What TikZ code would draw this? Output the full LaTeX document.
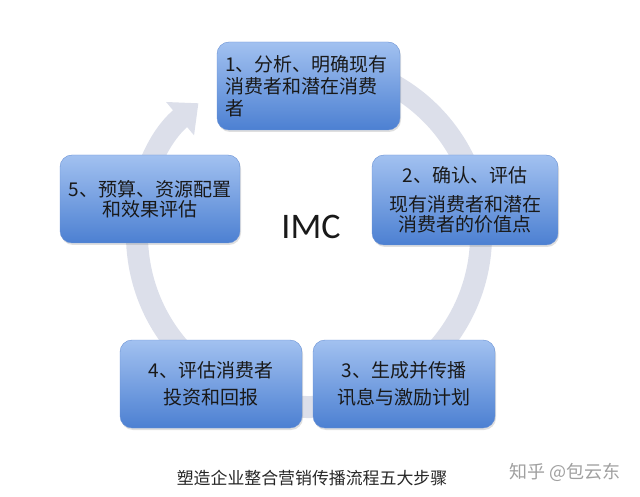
\documentclass[tikz,border=0pt]{standalone}
\usepackage{fontspec}
\setmainfont{Noto Sans CJK SC}
\newfontfamily\imcfont{Carlito}
\usepackage{tikz}
\usetikzlibrary{arrows.meta,positioning,calc,shadows}

\definecolor{ringgray}{RGB}{220,223,234}
\definecolor{boxtop}{RGB}{162,193,240}
\definecolor{boxbot}{RGB}{76,128,210}
\definecolor{boxline}{RGB}{105,145,212}
\definecolor{marktext}{RGB}{160,160,160}

\begin{document}
\begin{tikzpicture}[x=1pt,y=1pt,>=Latex]
  \tikzstyle{box}=[draw=boxline,rounded corners=12pt,top color=boxtop,bottom color=boxbot,
    minimum width=182pt,minimum height=88pt,align=center,inner sep=8pt,
    font=\fontsize{19}{20}\selectfont,text=black!90,
    drop shadow={shadow xshift=1pt,shadow yshift=-2pt,opacity=0.25}]
  \useasboundingbox (0,0) rectangle (640,496);
  \coordinate (c) at (309,261);
  % ring arrow behind the steps
  \draw[ringgray,line width=22pt,-{Triangle[width=42pt,length=24pt]}]
    (c) ++(100:172) arc[start angle=100,end angle=-230,radius=172];
  \node[box,minimum width=183pt,align=left,text width=167pt] (s1) at (308.5,410)
    {1、分析、明确现有\\[2pt]消费者和潜在消费\\[2pt]者};
  \node[box,minimum width=186pt,minimum height=90pt] (s2) at (465,296)
    {2、确认、评估\\[9pt]现有消费者和潜在\\消费者的价值点};
  \node[box] (s3) at (404,112) {3、生成并传播\\[7pt]讯息与激励计划};
  \node[box] (s4) at (211,112) {4、评估消费者\\[7pt]投资和回报};
  \node[box,minimum width=180pt] (s5) at (150,297) {5、预算、资源配置\\和效果评估};
  \node[font=\imcfont\fontsize{36}{36}\selectfont,text=black!90] (imc) at (311,269.5) {IMC};
  % caption and mark
  \node[font=\fontsize{16.9}{17}\selectfont,text=black!85] (cap) at (312,18) {塑造企业整合营销传播流程五大步骤};
  \node[font=\fontsize{18}{18}\selectfont,text=marktext] (mark) at (565,24) {知乎 @包云东};
\end{tikzpicture}
\end{document}
